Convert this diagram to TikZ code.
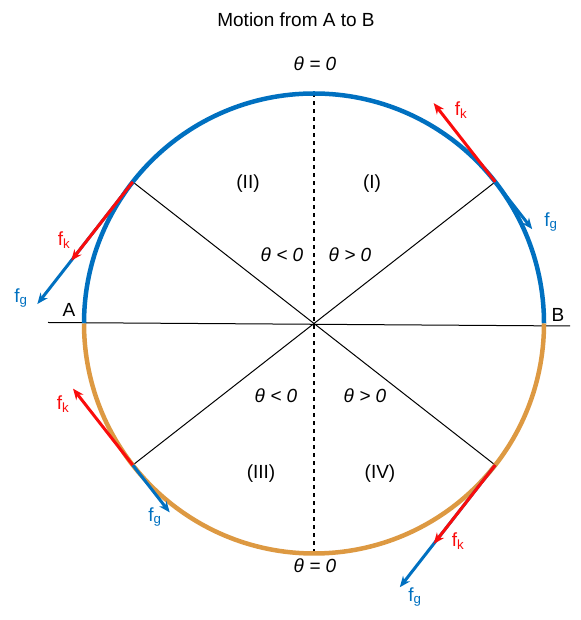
\documentclass[tikz,border=0pt]{standalone}
\usepackage{fontspec}
\setmainfont{Liberation Sans}
\usetikzlibrary{
  calc,
  arrows.meta
}
\definecolor{arcblue}{RGB}{0,112,192}
\definecolor{arcorange}{RGB}{221,153,66}
\definecolor{fkred}{RGB}{250,12,12}

\begin{document}
\begin{tikzpicture}[x=1pt,y=1pt,
  every node/.style={font=\fontsize{19}{21}\selectfont},
  lbl/.style={anchor=base},
  fk/.style={fkred,line width=3pt,-{Stealth[length=11pt,width=9pt]}},
  fg/.style={arcblue,line width=3pt,-{Stealth[length=11pt,width=9pt]}},
  ]
  \useasboundingbox (0,0) rectangle (580,620);
  \coordinate (O) at (314,296.5);
  \foreach \a/\n in {180/A,0/B,90/top,270/bot,142/ul,38/ur,218/ll,322/lr}
    \coordinate (\n) at ($(O)+(\a:230)$);
  \coordinate (Lend) at (48,297.5);
  \coordinate (Rend) at (570,294);
  \draw[line width=1pt] (Lend) -- (Rend);
  \draw[line width=1pt] (ul) -- (O) -- (lr);
  \draw[line width=1pt] (ur) -- (O) -- (ll);
  \draw[line width=1.2pt,dash pattern=on 4pt off 4pt] (top) -- (bot);
  \draw[arcblue,line width=4.5pt] (A) arc[start angle=180,end angle=0,radius=230];
  \draw[arcorange,line width=4.5pt] (A) arc[start angle=180,end angle=360,radius=230];
  \draw[fg] (ul) -- ++(232:155) coordinate (ulg);
  \draw[fk] (ul) -- ++(232:100) coordinate (ulk);
  \draw[fg] (ur) -- ++(308:60) coordinate (urg);
  \draw[fk] (ur) -- ++(128:100) coordinate (urk);
  \draw[fg] (ll) -- ++(308:60) coordinate (llg);
  \draw[fk] (ll) -- ++(128:97) coordinate (llk);
  \draw[fg] (lr) -- ++(232:155) coordinate (lrg);
  \draw[fk] (lr) -- ++(232:100) coordinate (lrk);
  \node[fkred] (ulfk) at (64,380) {f\textsubscript{k}};
  \node[arcblue] (ulfg) at (21,322) {f\textsubscript{g}};
  \node[fkred] (urfk) at (461,510) {f\textsubscript{k}};
  \node[arcblue] (urfg) at (551,398) {f\textsubscript{g}};
  \node[fkred] (llfk) at (63,216) {f\textsubscript{k}};
  \node[arcblue] (llfg) at (155,103) {f\textsubscript{g}};
  \node[fkred] (lrfk) at (458,79) {f\textsubscript{k}};
  \node[arcblue] (lrfg) at (415,23) {f\textsubscript{g}};
  \node[lbl] (title) at (296,593) {Motion from A to B};
  \node[lbl] (zerotop) at (315,549) {\textit{θ = 0}};
  \node[lbl] (zerobot) at (315,47) {\textit{θ = 0}};
  \node[lbl] (q2) at (248,431) {(II)};
  \node[lbl] (q1) at (372,431) {(I)};
  \node[lbl] (q3) at (261,141) {(III)};
  \node[lbl] (q4) at (380,141) {(IV)};
  \node[lbl] (neg2) at (282,358) {\textit{θ < 0}};
  \node[lbl] (pos1) at (350,358) {\textit{θ > 0}};
  \node[lbl] (neg3) at (276,217) {\textit{θ < 0}};
  \node[lbl] (pos4) at (365,217) {\textit{θ > 0}};
  \node[lbl] (labA) at (69,303) {A};
  \node[lbl] (labB) at (558,298) {B};
\end{tikzpicture}
\end{document}
